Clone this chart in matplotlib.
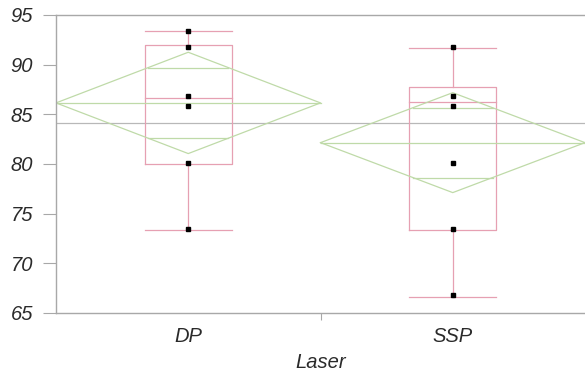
import numpy as np
import matplotlib.pyplot as plt

# data
categories = ['DP', 'SSP']
dp_values = [93.4, 91.8, 86.8, 85.8, 80.1, 73.5]
ssp_values = [91.8, 86.8, 85.8, 80.1, 73.5, 66.8]

# box plot summary (whisker low, q1, median, q3, whisker high)
whisk_lo = [73.4, 66.6]
q1 = [80.0, 73.4]
median = [86.6, 86.2]
q3 = [92.0, 87.8]
whisk_hi = [93.4, 91.7]

# means diamonds
means = [86.15, 82.15]
ci_half = [5.1, 5.03]
overlap = [3.56, 3.51]
grand_mean = 84.1

yticks = [65, 70, 75, 80, 85, 90, 95]

box_col = '#e6a0b2'
dia_col = '#bfdaa8'
axis_col = '#a8a8a8'
text_col = '#2a2a2a'

plt.rcParams['font.family'] = ['Liberation Sans', 'DejaVu Sans']

fig = plt.figure(figsize=(5.85, 3.77), dpi=100)
ax = fig.add_axes([56 / 585, 1 - 313 / 377, 529 / 585, 298 / 377])

lw = 0.9
bw = 0.33
for i, vals in enumerate([dp_values, ssp_values]):
    c = i + 0.5
    # box plot
    ax.plot([c - bw / 2, c + bw / 2, c + bw / 2, c - bw / 2, c - bw / 2],
            [q1[i], q1[i], q3[i], q3[i], q1[i]], color=box_col, lw=lw)
    ax.plot([c - bw / 2, c + bw / 2], [median[i], median[i]], color=box_col, lw=lw)
    ax.plot([c, c], [q3[i], whisk_hi[i]], color=box_col, lw=lw)
    ax.plot([c, c], [q1[i], whisk_lo[i]], color=box_col, lw=lw)
    for w in (whisk_lo[i], whisk_hi[i]):
        ax.plot([c - bw / 2, c + bw / 2], [w, w], color=box_col, lw=lw)
    # means diamond
    m, h = means[i], ci_half[i]
    ax.plot([i, c, i + 1, c, i], [m, m + h, m, m - h, m], color=dia_col, lw=lw)
    ax.plot([i, i + 1], [m, m], color=dia_col, lw=lw)
    for s in (1, -1):
        yy = m + s * overlap[i]
        half = 0.5 * (1 - overlap[i] / h)
        ax.plot([c - half, c + half], [yy, yy], color=dia_col, lw=lw)
    # points
    ax.plot([c] * len(vals), vals, 's', color='black', ms=3.2, mec='black', zorder=5)

ax.axhline(grand_mean, color='#b8b8b8', lw=lw, zorder=1)

ax.set_xlim(0, 2)
ax.set_ylim(65, 95)
ax.set_yticks(yticks)
ax.set_yticklabels([str(t) for t in yticks], fontsize=14.5, style='italic', color=text_col)
ax.set_xticks([1])
ax.set_xticklabels([''])
ax.tick_params(axis='y', direction='out', length=9.4, width=0.8, color=axis_col, pad=7)
ax.tick_params(axis='x', direction='out', length=5, width=0.8, color=axis_col)
for k, cat in enumerate(categories):
    ax.text(k + 0.5, -0.08, cat, transform=ax.get_xaxis_transform(),
            ha='center', va='center', fontsize=14.5, style='italic', color=text_col)
ax.text(1, -0.165, 'Laser', transform=ax.get_xaxis_transform(),
        ha='center', va='center', fontsize=14.5, style='italic', color=text_col)

for side in ['left', 'bottom', 'top']:
    ax.spines[side].set_color(axis_col)
    ax.spines[side].set_linewidth(1.0)
ax.spines['right'].set_visible(False)

fig.savefig('out.png', dpi=100)
